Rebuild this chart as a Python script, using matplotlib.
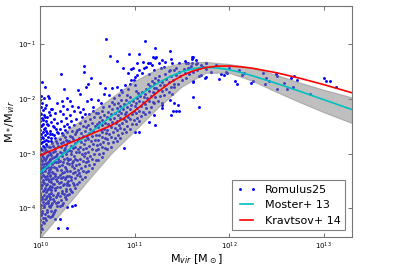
import numpy as np
import matplotlib
matplotlib.use('Agg')
import matplotlib.pyplot as plt

# log10(Mvir) grid for the relations
logm_rel = [10.0, 10.25, 10.5, 10.75, 10.875, 11.0, 11.125, 11.25, 11.375, 11.5, 11.625,
            11.75, 11.875, 12.0, 12.125, 12.25, 12.5, 12.75, 13.0, 13.3]
# log10(M*/Mvir)
moster_lr = [-3.342, -2.998, -2.656, -2.319, -2.154, -1.994, -1.843, -1.705, -1.588, -1.498, -1.443,
             -1.421, -1.431, -1.465, -1.515, -1.577, -1.714, -1.860, -2.011, -2.194]
kravtsov_lr = [-3.031, -2.848, -2.670, -2.484, -2.365, -2.216, -2.042, -1.864, -1.702, -1.573, -1.482,
               -1.425, -1.399, -1.396, -1.411, -1.438, -1.519, -1.621, -1.736, -1.886]

# scatter band around Moster+13
logm_band = [10.0, 10.25, 10.5, 10.75, 11.0, 11.25, 11.5, 11.75, 12.0, 12.25, 12.5, 12.75, 13.0, 13.3]
band_hi = [-2.96, -2.62, -2.30, -1.98, -1.67, -1.44, -1.34, -1.32, -1.36, -1.43, -1.56, -1.70, -1.83, -1.97]
band_lo = [-4.54, -4.02, -3.50, -3.00, -2.58, -2.15, -1.77, -1.52, -1.52, -1.67, -1.87, -2.06, -2.24, -2.44]

# Romulus25 haloes (log Mvir, log M*/Mvir)
cloud_a = [(10.00,-4.44),(10.02,-4.38),(10.01,-4.31),(10.04,-4.27),(10.00,-4.22),(10.03,-4.18),(10.06,-4.21),(10.01,-4.12),(10.05,-4.10),(10.08,-4.14),
           (10.02,-4.05),(10.00,-4.00),(10.04,-3.98),(10.07,-4.03),(10.09,-3.96),(10.01,-3.93),(10.03,-3.89),(10.06,-3.91),(10.00,-3.85),(10.05,-3.83),
           (10.08,-3.86),(10.02,-3.79),(10.04,-3.75),(10.07,-3.78),(10.10,-3.80),(10.00,-3.71),(10.03,-3.68),(10.06,-3.70),(10.09,-3.73),(10.01,-3.63),
           (10.05,-3.62),(10.08,-3.65),(10.02,-3.57),(10.04,-3.54),(10.00,-3.52),(10.07,-3.56),(10.10,-3.59),(10.03,-3.48),(10.06,-3.47),(10.09,-3.50),
           (10.01,-3.43),(10.04,-3.40),(10.00,-3.37),(10.07,-3.41),(10.02,-3.34),(10.05,-3.32),(10.08,-3.35),(10.10,-3.38),(10.01,-3.27),(10.03,-3.25),
           (10.06,-3.27),(10.09,-3.29),(10.00,-3.21),(10.04,-3.19),(10.07,-3.21),(10.02,-3.14),(10.05,-3.12),(10.08,-3.15),(10.00,-3.08),(10.03,-3.06),
           (10.06,-3.07),(10.10,-3.10),(10.01,-3.01),(10.04,-2.99),(10.08,-3.02),(10.02,-2.94),(10.05,-2.92),(10.07,-2.95),(10.00,-2.89),(10.03,-2.86),
           (10.09,-2.88),(10.01,-2.81),(10.06,-2.82),(10.04,-2.76),(10.00,-2.73),(10.08,-2.77),(10.02,-2.69),(10.05,-2.66),(10.03,-2.60),(10.07,-2.62),
           (10.00,-2.57),(10.10,-2.64),(10.01,-2.50),(10.05,-2.53),(10.03,-2.45),(10.08,-2.48),(10.00,-2.41),(10.06,-2.40),(10.02,-2.34),(10.04,-2.29),
           (10.00,-2.25),(10.07,-2.32),(10.03,-2.20),(10.01,-2.14),(10.05,-2.16),(10.09,-2.24),(10.02,-2.07),(10.00,-2.02),(10.06,-2.10),(10.04,-1.98)]
cloud_a2 = [(10.01,-4.35),(10.03,-4.25),(10.05,-4.17),(10.02,-4.09),(10.07,-4.07),(10.00,-3.96),(10.04,-3.93),(10.08,-3.90),(10.02,-3.83),(10.06,-3.81),
            (10.00,-3.76),(10.09,-3.77),(10.04,-3.67),(10.07,-3.66),(10.01,-3.58),(10.06,-3.57),(10.09,-3.62),(10.03,-3.52),(10.08,-3.46),(10.00,-3.45),
            (10.05,-3.43),(10.03,-3.38),(10.09,-3.33),(10.00,-3.30),(10.05,-3.24),(10.08,-3.24),(10.02,-3.19),(10.06,-3.17),(10.09,-3.13),(10.01,-3.12),
            (10.04,-3.09),(10.07,-3.04),(10.02,-3.02),(10.05,-2.97),(10.09,-2.97),(10.01,-2.92),(10.04,-2.87),(10.07,-2.86),(10.02,-2.78),(10.06,-2.74),
            (10.03,-2.71),(10.08,-2.69),(10.01,-2.64),(10.06,-2.58),(10.04,-2.55),(10.02,-2.47),(10.07,-2.45),(10.03,-2.38),(10.05,-2.33),(10.01,-2.28)]
cloud_b = [(10.11,-4.16),(10.14,-4.11),(10.12,-4.05),(10.16,-4.02),(10.11,-3.97),(10.18,-3.95),(10.13,-3.90),(10.15,-3.86),(10.19,-3.88),(10.11,-3.82),
           (10.17,-3.79),(10.14,-3.75),(10.12,-3.71),(10.19,-3.72),(10.16,-3.67),(10.11,-3.64),(10.13,-3.60),(10.18,-3.61),(10.15,-3.55),(10.12,-3.51),
           (10.20,-3.53),(10.17,-3.47),(10.14,-3.44),(10.11,-3.40),(10.19,-3.42),(10.16,-3.37),(10.13,-3.33),(10.18,-3.30),(10.11,-3.28),(10.15,-3.24),
           (10.20,-3.22),(10.13,-3.19),(10.17,-3.15),(10.11,-3.12),(10.19,-3.10),(10.15,-3.06),(10.12,-3.02),(10.18,-3.00),(10.14,-2.96),(10.16,-2.90),
           (10.11,-2.87),(10.19,-2.85),(10.13,-2.80),(10.17,-2.76),(10.12,-2.71),(10.15,-2.66),(10.19,-2.63),(10.11,-2.58),(10.17,-2.55),(10.14,-2.49),
           (10.12,-2.42),(10.18,-2.44),(10.15,-2.36),(10.11,-2.30),(10.16,-2.26),(10.13,-2.18)]
cloud_b2 = [(10.13,-4.13),(10.15,-4.07),(10.12,-3.93),(10.17,-3.91),(10.14,-3.82),(10.18,-3.75),(10.12,-3.67),(10.16,-3.62),(10.14,-3.56),(10.18,-3.49),
            (10.12,-3.46),(10.16,-3.41),(10.14,-3.35),(10.17,-3.26),(10.12,-3.24),(10.15,-3.16),(10.19,-3.16),(10.13,-3.07),(10.17,-3.04),(10.11,-2.98),
            (10.16,-2.95),(10.14,-2.86),(10.18,-2.81),(10.12,-2.77),(10.16,-2.72),(10.13,-2.64),(10.18,-2.60),(10.15,-2.52)]
cloud_c = [(10.21,-3.95),(10.24,-3.90),(10.22,-3.84),(10.27,-3.82),(10.21,-3.77),(10.25,-3.73),(10.29,-3.75),(10.23,-3.68),(10.27,-3.64),(10.21,-3.60),
           (10.25,-3.56),(10.29,-3.58),(10.22,-3.51),(10.26,-3.47),(10.30,-3.49),(10.24,-3.42),(10.21,-3.38),(10.28,-3.40),(10.25,-3.34),(10.22,-3.29),
           (10.29,-3.31),(10.26,-3.25),(10.23,-3.20),(10.28,-3.17),(10.21,-3.14),(10.25,-3.10),(10.30,-3.12),(10.23,-3.05),(10.27,-3.01),(10.21,-2.97),
           (10.25,-2.93),(10.29,-2.95),(10.22,-2.88),(10.27,-2.84),(10.24,-2.79),(10.29,-2.76),(10.21,-2.73),(10.26,-2.69),(10.23,-2.63),(10.28,-2.60),
           (10.21,-2.55),(10.25,-2.50),(10.29,-2.46),(10.22,-2.40),(10.27,-2.35),(10.24,-2.27),(10.21,-2.21),(10.28,-2.19)]
cloud_c2 = [(10.23,-3.93),(10.26,-3.80),(10.23,-3.72),(10.27,-3.69),(10.24,-3.58),(10.28,-3.53),(10.22,-3.45),(10.27,-3.42),(10.23,-3.35),(10.27,-3.28),
            (10.24,-3.15),(10.28,-3.08),(10.23,-2.99),(10.26,-2.90),(10.22,-2.81),(10.27,-2.74),(10.24,-2.66),(10.26,-2.56),
            (10.33,-3.68),(10.36,-3.58),(10.33,-3.43),(10.37,-3.33),(10.34,-3.17),(10.37,-3.10),(10.33,-2.95),(10.37,-2.87),(10.34,-2.70),(10.38,-2.61)]
cloud_d = [(10.31,-3.74),(10.34,-3.70),(10.32,-3.64),(10.37,-3.62),(10.31,-3.57),(10.35,-3.53),(10.39,-3.55),(10.33,-3.48),(10.37,-3.44),(10.31,-3.40),
           (10.35,-3.36),(10.39,-3.38),(10.32,-3.31),(10.36,-3.27),(10.40,-3.29),(10.34,-3.22),(10.31,-3.18),(10.38,-3.20),(10.35,-3.14),(10.32,-3.09),
           (10.39,-3.11),(10.36,-3.05),(10.33,-3.00),(10.38,-2.97),(10.31,-2.94),(10.35,-2.90),(10.40,-2.92),(10.33,-2.85),(10.37,-2.81),(10.31,-2.77),
           (10.35,-2.73),(10.39,-2.75),(10.32,-2.68),(10.37,-2.64),(10.34,-2.59),(10.39,-2.56),(10.31,-2.52),(10.36,-2.47),(10.33,-2.41),(10.38,-2.37),
           (10.32,-2.30),(10.36,-2.22),(10.34,-2.12)]
cloud_e = [(10.41,-3.52),(10.44,-3.47),(10.42,-3.41),(10.47,-3.43),(10.41,-3.35),(10.45,-3.31),(10.49,-3.33),(10.43,-3.26),(10.47,-3.22),(10.41,-3.18),
           (10.45,-3.14),(10.49,-3.16),(10.42,-3.09),(10.46,-3.05),(10.50,-3.07),(10.44,-3.00),(10.41,-2.96),(10.48,-2.98),(10.45,-2.92),(10.42,-2.87),
           (10.49,-2.89),(10.46,-2.83),(10.43,-2.78),(10.48,-2.75),(10.41,-2.71),(10.45,-2.67),(10.50,-2.69),(10.43,-2.62),(10.47,-2.58),(10.41,-2.54),
           (10.45,-2.49),(10.49,-2.51),(10.42,-2.44),(10.47,-2.40),(10.44,-2.33),(10.48,-2.27),(10.42,-2.24)]
cloud_f = [(10.51,-3.31),(10.55,-3.27),(10.52,-3.21),(10.57,-3.19),(10.51,-3.13),(10.55,-3.09),(10.59,-3.11),(10.53,-3.04),(10.57,-3.00),(10.51,-2.96),
           (10.55,-2.91),(10.59,-2.93),(10.52,-2.86),(10.56,-2.82),(10.60,-2.84),(10.54,-2.77),(10.51,-2.73),(10.58,-2.75),(10.55,-2.68),(10.52,-2.63),
           (10.59,-2.65),(10.56,-2.59),(10.53,-2.54),(10.58,-2.50),(10.51,-2.47),(10.55,-2.43),(10.60,-2.45),(10.53,-2.37),(10.57,-2.33),(10.52,-2.28),
           (10.56,-2.22),(10.59,-2.26)]
cloud_g = [(10.61,-3.11),(10.65,-3.06),(10.62,-3.00),(10.67,-2.98),(10.61,-2.92),(10.65,-2.88),(10.69,-2.90),(10.63,-2.83),(10.67,-2.79),(10.61,-2.75),
           (10.65,-2.70),(10.69,-2.72),(10.62,-2.65),(10.66,-2.61),(10.70,-2.63),(10.64,-2.56),(10.61,-2.52),(10.68,-2.54),(10.65,-2.47),(10.62,-2.42),
           (10.69,-2.44),(10.66,-2.38),(10.63,-2.33),(10.68,-2.29),(10.61,-2.26),(10.65,-2.21),(10.67,-2.15)]
cloud_h = [(10.71,-2.92),(10.75,-2.87),(10.72,-2.81),(10.77,-2.79),(10.71,-2.73),(10.75,-2.69),(10.79,-2.71),(10.73,-2.64),(10.77,-2.60),(10.71,-2.56),
           (10.75,-2.51),(10.79,-2.53),(10.72,-2.46),(10.76,-2.42),(10.80,-2.44),(10.74,-2.37),(10.71,-2.33),(10.78,-2.35),(10.75,-2.28),(10.72,-2.23),
           (10.79,-2.25),(10.76,-2.18),(10.73,-2.13),(10.78,-2.09)]
cloud_i = [(10.81,-2.76),(10.85,-2.71),(10.82,-2.65),(10.87,-2.62),(10.81,-2.57),(10.85,-2.53),(10.89,-2.55),(10.83,-2.48),(10.87,-2.44),(10.81,-2.40),
           (10.85,-2.35),(10.89,-2.37),(10.82,-2.30),(10.86,-2.26),(10.90,-2.28),(10.84,-2.21),(10.81,-2.17),(10.88,-2.19),(10.85,-2.12),(10.82,-2.07),
           (10.89,-2.09),(10.86,-2.02)]
cloud_j = [(10.91,-2.60),(10.95,-2.55),(10.92,-2.49),(10.97,-2.46),(10.91,-2.41),(10.95,-2.37),(10.99,-2.39),(10.93,-2.32),(10.97,-2.28),(10.91,-2.24),
           (10.95,-2.19),(10.99,-2.21),(10.92,-2.14),(10.96,-2.10),(11.00,-2.12),(10.94,-2.05),(10.91,-2.01),(10.98,-2.03),(10.95,-1.96),(10.92,-1.92)]
cloud_k = [(11.01,-2.45),(11.05,-2.40),(11.02,-2.34),(11.07,-2.31),(11.01,-2.26),(11.05,-2.21),(11.09,-2.23),(11.03,-2.16),(11.07,-2.12),(11.01,-2.08),
           (11.05,-2.03),(11.09,-2.05),(11.02,-1.98),(11.06,-1.94),(11.10,-1.96),(11.04,-1.89),(11.01,-1.85),(11.08,-1.87)]
cloud_l = [(11.11,-2.28),(11.15,-2.23),(11.12,-2.17),(11.17,-2.14),(11.11,-2.09),(11.15,-2.04),(11.19,-2.06),(11.13,-1.99),(11.17,-1.95),(11.11,-1.91),
           (11.15,-1.86),(11.19,-1.88),(11.12,-1.81),(11.16,-1.77),(11.20,-1.79),(11.14,-1.72),(11.18,-1.67)]
cloud_m = [(11.21,-2.08),(11.25,-2.03),(11.22,-1.97),(11.27,-1.94),(11.21,-1.89),(11.25,-1.84),(11.29,-1.86),(11.23,-1.79),(11.27,-1.75),(11.21,-1.71),
           (11.25,-1.66),(11.29,-1.68),(11.22,-1.61),(11.26,-1.57)]
cloud_n = [(11.31,-1.92),(11.36,-1.87),(11.33,-1.81),(11.39,-1.78),(11.42,-1.72),(11.31,-1.74),(11.36,-1.69),(11.41,-1.65),(11.33,-1.63),(11.38,-1.58),
           (11.44,-1.56),(11.32,-1.54),(11.36,-1.49),(11.42,-1.47)]
cloud_o = [(11.46,-1.72),(11.50,-1.66),(11.54,-1.62),(11.48,-1.58),(11.53,-1.53),(11.58,-1.55),(11.62,-1.50),(11.47,-1.50),(11.52,-1.45),(11.57,-1.44),
           (11.66,-1.46),(11.71,-1.42),(11.76,-1.45),(11.60,-1.40),(11.81,-1.50)]
upper_pts = [(10.70,-0.90),(10.74,-1.21),(10.81,-1.30),(10.88,-1.43),(10.96,-1.45),(10.93,-1.53),(10.46,-1.39),(10.46,-1.50),(10.22,-1.55),(10.54,-1.62),
             (10.51,-1.72),(10.02,-1.69),(10.05,-1.78),(10.25,-1.81),(10.40,-1.83),(10.42,-1.90),(10.49,-1.78),(10.63,-1.70),(10.69,-1.79),(10.76,-1.79),
             (10.81,-1.78),(10.86,-1.84),(10.90,-1.75),(10.95,-1.72),(10.99,-1.66),(10.08,-1.95),(10.09,-1.98),(10.01,-1.95),(10.18,-2.07),(10.23,-2.04),
             (10.29,-1.99),(10.32,-2.03),(10.24,-2.13),(10.12,-2.19),(10.40,-2.14),(10.45,-2.19),(10.50,-2.03),(10.54,-2.00),(10.61,-2.02),(10.56,-2.14),
             (10.64,-2.08),(10.68,-1.90),(10.73,-1.93),(10.78,-1.99),(10.76,-2.05),(10.84,-1.93),(10.87,-1.87),(10.93,-1.81),(11.00,-1.75),(10.00,-2.14)]
peak_pts = [(11.11,-0.94),(11.22,-1.06),(11.37,-1.13),(11.05,-1.18),(11.19,-1.24),(11.23,-1.24),(11.29,-1.28),(11.26,-1.34),(11.32,-1.32),(11.02,-1.35),
            (11.09,-1.32),(11.14,-1.35),(11.18,-1.38),(11.12,-1.41),(11.05,-1.47),(10.98,-1.44),(11.08,-1.52),(11.15,-1.54),(11.21,-1.47),(11.40,-1.35),
            (11.47,-1.34),(11.54,-1.34),(11.61,-1.23),(11.65,-1.36),(10.96,-1.66),(11.02,-1.56),(10.94,-1.17),(11.22,-1.25),(11.38,-1.27),(11.16,-1.35),
            (11.10,-1.44),(11.00,-1.59),(11.28,-1.44),(11.31,-1.41),(11.53,-1.31),(11.56,-1.35),(11.61,-1.27),(11.70,-1.38),(11.75,-1.35),(11.37,-1.47),
            (11.44,-1.43),(11.58,-1.44),(11.62,-1.24),(11.65,-1.28),(11.61,-1.34),(11.66,-1.34),(11.75,-1.34),(11.72,-1.41),(11.68,-1.44),(11.86,-1.38)]
high_pts = [(11.62,-1.67),(11.62,-1.96),(11.68,-2.14),(11.68,-1.58),(11.74,-1.61),(11.76,-1.59),(11.89,-1.64),(11.91,-1.55),(11.95,-1.56),(11.98,-1.53),
            (12.00,-1.44),(12.06,-1.67),(12.08,-1.73),(12.10,-1.47),(12.14,-1.56),(12.23,-1.70),(12.25,-1.67),(12.36,-1.52),(12.39,-1.62),(12.38,-1.72),
            (12.42,-1.67),(12.50,-1.55),(12.51,-1.58),(12.51,-1.81),(12.58,-1.70),(12.61,-1.82),(12.65,-1.61),(12.69,-1.58),(12.72,-1.66),(12.68,-1.78),
            (12.86,-1.91),(13.00,-1.62),(13.02,-1.67),(13.07,-1.67),(13.13,-1.78),(11.70,-1.56),(11.97,-1.50),(12.16,-1.53),(11.62,-1.69)]
low_pts = [(11.46,-2.11),(11.44,-2.21),(11.39,-2.30),(11.40,-1.90),(11.42,-1.78),(11.29,-2.11),(11.29,-2.17),(11.22,-2.48),(11.15,-2.42),(11.21,-2.30),
           (11.05,-2.61),(11.37,-2.02),(11.00,-2.60),(10.89,-2.90),(11.29,-2.08),(11.41,-2.22),(11.42,-2.08),(11.47,-2.22),
           (10.29,-4.35),(10.19,-4.35),(10.16,-4.19),(10.21,-4.19),(10.29,-3.98),(10.34,-3.95),(10.37,-3.93)]

romulus = (cloud_a + cloud_a2 + cloud_b + cloud_b2 + cloud_c + cloud_c2 + cloud_d + cloud_e + cloud_f + cloud_g
           + cloud_h + cloud_i + cloud_j + cloud_k + cloud_l + cloud_m + cloud_n + cloud_o
           + upper_pts + peak_pts + high_pts + low_pts)
rom_m = 10 ** np.array([p[0] for p in romulus])
rom_r = 10 ** np.array([p[1] for p in romulus])

fig = plt.figure(figsize=(3.93, 2.66), dpi=100)
ax = fig.add_axes([0.102, 0.109, 0.794, 0.868])

ax.plot(rom_m, rom_r, 'o', color='b', ms=2.1, mew=0, ls='none', label='Romulus25', zorder=1)
ax.fill_between(10 ** np.array(logm_band), 10 ** np.array(band_lo), 10 ** np.array(band_hi),
                color='gray', alpha=0.5, lw=0.8, zorder=2)
ax.plot(10 ** np.array(logm_rel), 10 ** np.array(moster_lr), color='c', lw=1.2, label='Moster+ 13', zorder=3)
ax.plot(10 ** np.array(logm_rel), 10 ** np.array(kravtsov_lr), color='r', lw=1.2, label='Kravtsov+ 14', zorder=3)

ax.set_xscale('log')
ax.set_yscale('log')
ax.set_xlim(1e10, 2e13)
ax.set_ylim(3e-5, 0.5)
ax.minorticks_off()
ax.tick_params(direction='in', top=True, right=True, length=3, width=0.6, labelsize=5, pad=3, colors='0.35',
               labelcolor='black')
for s in ax.spines.values():
    s.set_color('0.45')
    s.set_linewidth(0.8)

ax.set_xlabel(r'M$_{vir}$ [M$_\odot$]', fontsize=8, labelpad=0)
ax.set_ylabel(r'M$_*$/M$_{vir}$', fontsize=8, labelpad=1)

leg = ax.legend(loc='lower right', fontsize=8, numpoints=2, fancybox=False, framealpha=1,
                edgecolor='0.5', borderaxespad=0.6, handlelength=1.8, labelspacing=0.5)
leg.get_frame().set_linewidth(0.8)

fig.savefig('out.png', dpi=100)
